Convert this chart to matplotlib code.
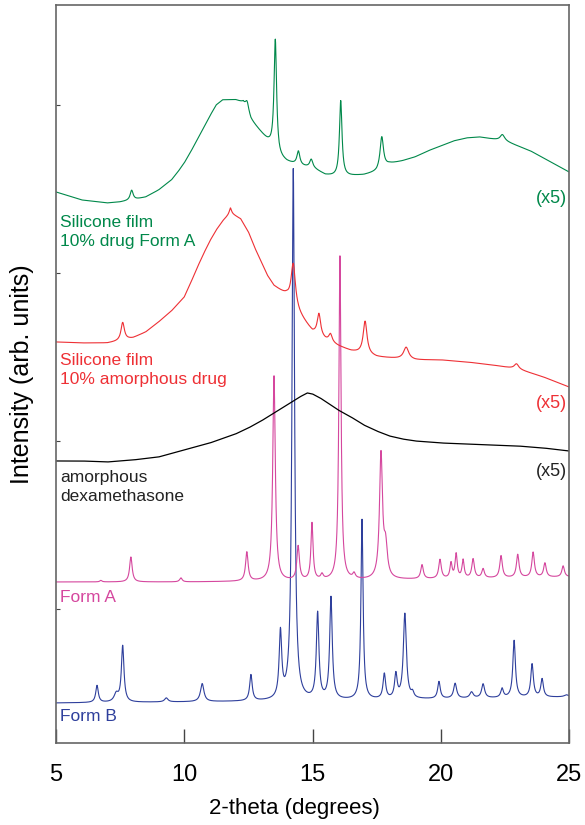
#XRD patterns of dexamethasone forms and silicone films, stacked with vertical offsets
import numpy as np
import matplotlib
matplotlib.use('Agg')
import matplotlib.pyplot as plt

plt.rcParams['font.family'] = ['Liberation Sans', 'DejaVu Sans']

#2-theta grid
two_theta = np.linspace(5, 25, 2001)

#Form B (blue): baseline points and peaks (position, height, half width)
formB_base_x = [5, 10, 15, 20, 25]
formB_base_y = [40, 41, 42, 44, 46]
formB_pos = [6.6, 7.35, 7.6, 9.3, 10.7, 12.6, 13.75, 14.25, 15.2, 15.72, 16.93, 17.8, 18.25, 18.6, 18.9,
             19.93, 20.56, 21.2, 21.65, 22.39, 22.86, 23.56, 23.95, 24.9]
formB_height = [17, 8, 56, 4, 18, 26, 66, 531, 86, 102, 180, 25, 24, 85, 5,
                17, 15, 6, 14, 9, 57, 33, 18, 2]
formB_width = [0.06, 0.1, 0.06, 0.08, 0.08, 0.06, 0.06, 0.06, 0.06, 0.06, 0.05, 0.06, 0.06, 0.07, 0.06,
               0.06, 0.07, 0.08, 0.07, 0.06, 0.06, 0.06, 0.06, 0.1]

#Form A (magenta)
formA_base_x = [5, 10, 15, 20, 25]
formA_base_y = [161, 161, 162, 164, 166]
formA_pos = [6.75, 7.92, 9.87, 12.44, 13.5, 14.44, 14.98, 15.37, 16.07, 16.62, 17.67, 17.85,
             19.27, 19.97, 20.4, 20.6, 20.87, 21.26, 21.65, 22.35, 23.0, 23.6, 24.06, 24.77]
formA_height = [1.5, 25, 4, 29, 205, 34, 57, 5, 324, 5, 124, 30,
                14, 19, 15, 24, 18, 19, 9, 22, 23, 25, 14, 11]
formA_width = [0.05, 0.06, 0.06, 0.06, 0.06, 0.06, 0.05, 0.06, 0.05, 0.06, 0.07, 0.08,
               0.06, 0.06, 0.05, 0.05, 0.05, 0.06, 0.06, 0.06, 0.06, 0.06, 0.06, 0.06]

#amorphous dexamethasone (black), x5
amorph_x = [5, 6, 7, 8, 9, 10, 11, 12, 12.5, 13, 13.5, 14, 14.5, 14.8, 15.0, 15.3, 16, 16.5, 17, 17.5, 18, 18.5,
            19, 20, 21, 22, 23, 24, 25]
amorph_y = [282, 282, 281, 283, 286, 293, 300, 309, 315, 322, 330, 338, 346, 350, 349, 345, 333, 326, 318, 312, 307, 304,
            302, 300, 299, 298, 297, 295, 292]

#silicone film with 10% amorphous drug (red), x5
red_base_x = [5, 6, 7, 7.5, 8, 8.5, 9, 9.5, 9.75, 10, 10.25, 10.5, 10.75, 11, 11.25, 11.5, 11.8, 12.2, 12.5, 12.75,
              13, 13.25, 13.5, 14, 14.5, 15, 15.5, 16, 16.5, 17, 17.5, 18, 19, 20, 21, 22, 23, 24, 25]
red_base_y = [401, 400, 400, 402, 405, 411, 421, 432, 439, 446, 460, 475, 489, 502, 513, 522, 530, 524, 511, 495,
              481, 467, 457, 447, 428, 411, 403, 397, 392, 389, 386, 385, 383, 383, 381, 378, 374, 366, 356]
red_pos = [7.6, 11.8, 14.25, 15.25, 15.7, 17.05, 18.65, 22.95]
red_height = [18, 5, 42, 22, 8, 33, 12, 5]
red_width = [0.08, 0.05, 0.1, 0.08, 0.08, 0.09, 0.12, 0.1]

#silicone film with 10% drug Form A (green), x5
green_base_x = [5, 6, 7, 7.5, 8, 8.5, 9, 9.5, 9.75, 10, 10.25, 10.5, 10.75, 11, 11.25, 11.5, 12, 12.3, 12.6, 13,
                13.3, 13.7, 14, 14.5, 15, 15.5, 16, 16.5, 17, 17.5, 18, 18.5, 19, 19.5, 20, 20.5, 21, 21.5, 22,
                22.5, 23, 23.5, 24, 24.5, 25]
green_base_y = [551, 543, 540, 541, 543, 546, 553, 563, 571, 580, 591, 603, 615, 627, 638, 643, 643, 640, 623, 610,
                600, 585, 581, 577, 575, 568, 566, 567, 568, 571, 579, 582, 586, 592, 597, 602, 605, 606, 604,
                602, 597, 592, 585, 578, 571]
green_pos = [7.95, 12.45, 13.55, 14.45, 14.95, 16.1, 17.7, 22.4]
green_height = [10, 10, 113, 14, 8, 76, 32, 6]
green_width = [0.07, 0.08, 0.06, 0.07, 0.07, 0.06, 0.08, 0.1]


def pattern(base_x, base_y, pos, height, width):
    y = np.interp(two_theta, base_x, base_y)
    for p, h, w in zip(pos, height, width):
        y = y + h * w**2 / ((two_theta - p)**2 + w**2)
    return y


c_green = '#00884a'
c_red = '#ee3035'
c_mag = '#d5479e'
c_blue = '#2e3f9c'

fig = plt.figure(figsize=(5.85, 8.25), dpi=100)
ax = fig.add_axes([0.0957, 0.0994, 0.877, 0.8946])

ax.plot(two_theta, pattern(formB_base_x, formB_base_y, formB_pos, formB_height, formB_width), color=c_blue, lw=0.8)
ax.plot(two_theta, pattern(formA_base_x, formA_base_y, formA_pos, formA_height, formA_width), color=c_mag, lw=0.8)
ax.plot(two_theta, np.interp(two_theta, amorph_x, amorph_y), color='black', lw=0.9)
ax.plot(two_theta, pattern(red_base_x, red_base_y, red_pos, red_height, red_width), color=c_red, lw=0.8)
ax.plot(two_theta, pattern(green_base_x, green_base_y, green_pos, green_height, green_width), color=c_green, lw=0.8)

ax.set_xlim(5, 25)
ax.set_ylim(0, 738)

#labels for the traces
fs = 12.5
ls = 1.35
ax.text(5.15, 511, 'Silicone film\n10% drug Form A', color=c_green, fontsize=fs, va='center', linespacing=ls)
ax.text(5.15, 373, 'Silicone film\n10% amorphous drug', color=c_red, fontsize=fs, va='center', linespacing=ls)
ax.text(5.15, 256, 'amorphous\ndexamethasone', color='#222222', fontsize=fs, va='center', linespacing=ls)
ax.text(5.15, 145, 'Form A', color=c_mag, fontsize=fs, va='center')
ax.text(5.15, 26, 'Form B', color=c_blue, fontsize=fs, va='center')
ax.text(24.93, 544, '(x5)', color=c_green, fontsize=13, ha='right', va='center')
ax.text(24.93, 339, '(x5)', color=c_red, fontsize=13, ha='right', va='center')
ax.text(24.93, 271, '(x5)', color='#222222', fontsize=13, ha='right', va='center')

ax.set_xticks([5, 10, 15, 20, 25])
ax.tick_params(axis='x', direction='in', length=10, width=1, labelsize=17, pad=15, color='#444444')
ax.set_yticks([134, 302, 470, 638])
ax.set_yticklabels([])
ax.tick_params(axis='y', direction='in', length=3, width=0.8, color='#444444')
for s in ax.spines.values():
    s.set_color('#666666')
    s.set_linewidth(1.2)

ax.set_xlabel('2-theta (degrees)', fontsize=16)
ax.xaxis.set_label_coords(0.464, -0.0745)
ax.set_ylabel('Intensity (arb. units)', fontsize=18)
ax.yaxis.set_label_coords(-0.043, 0.50)

fig.savefig('out.png', dpi=100)
